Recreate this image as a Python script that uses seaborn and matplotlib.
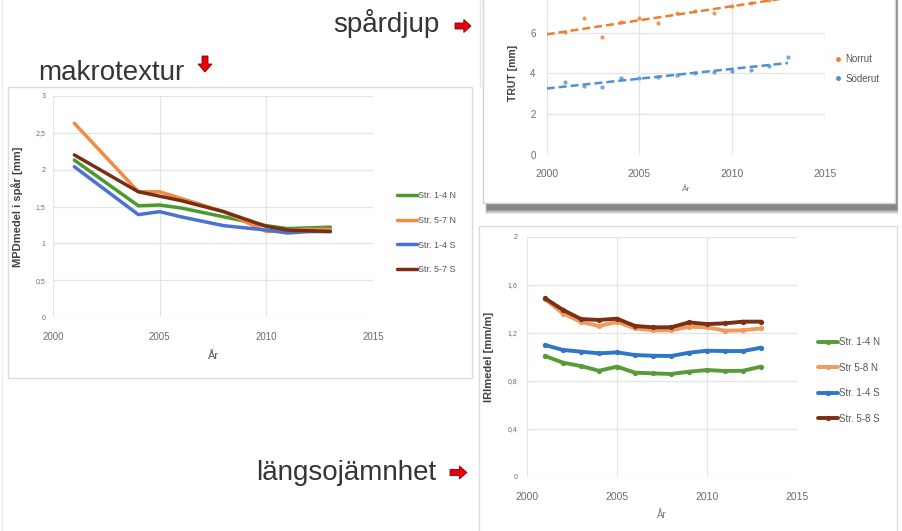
import matplotlib
matplotlib.use("Agg")
import matplotlib.pyplot as plt
import pandas as pd
import seaborn as sns
from matplotlib.lines import Line2D
from matplotlib.patches import Rectangle, Polygon
from matplotlib.ticker import FuncFormatter, FixedLocator

# ---- makrotextur (MPD) ----
mpd_years = [2001, 2004, 2005, 2006, 2008, 2010, 2011, 2012, 2013]
mpd_str14n = [2.13, 1.51, 1.52, 1.48, 1.36, 1.24, 1.20, 1.21, 1.22]
mpd_str57n = [2.63, 1.70, 1.70, 1.61, 1.43, 1.16, 1.18, 1.19, 1.19]
mpd_str14s = [2.04, 1.39, 1.43, 1.36, 1.24, 1.18, 1.14, 1.16, 1.16]
mpd_str57s = [2.20, 1.70, 1.64, 1.58, 1.43, 1.23, 1.18, 1.17, 1.16]
mpd_labels = ["Str. 1-4 N", "Str. 5-7 N", "Str. 1-4 S", "Str. 5-7 S"]
mpd_colors = ["#4a9a2e", "#f08a45", "#4a72d2", "#7a2d12"]

# ---- spårdjup (TRUT) ----
rut_years = list(range(2001, 2014))
rut_norrut = [6.04, 6.70, 5.80, 6.53, 6.70, 6.49, 6.94, 7.07, 6.94, 7.30, 7.47, 7.60, 7.80]
rut_soderut = [3.59, 3.38, 3.32, 3.76, 3.76, 3.81, 3.92, 4.03, 4.08, 4.13, 4.17, 4.36, 4.79]
rut_labels = ["Norrut", "Söderut"]
rut_colors = ["#ee7d31", "#4f8fd3"]

# ---- längsojämnhet (IRI) ----
iri_years = list(range(2001, 2014))
iri_str14n = [1.006, 0.95, 0.922, 0.883, 0.917, 0.867, 0.861, 0.856, 0.875, 0.889, 0.881, 0.883, 0.917]
iri_str58n = [1.48, 1.36, 1.29, 1.256, 1.29, 1.236, 1.22, 1.22, 1.25, 1.245, 1.217, 1.22, 1.236]
iri_str14s = [1.097, 1.056, 1.042, 1.028, 1.036, 1.014, 1.008, 1.006, 1.033, 1.05, 1.047, 1.047, 1.075]
iri_str58s = [1.487, 1.39, 1.314, 1.306, 1.317, 1.256, 1.245, 1.245, 1.286, 1.272, 1.278, 1.292, 1.292]
iri_labels = ["Str. 1-4 N", "Str 5-8 N", "Str. 1-4 S", "Str. 5-8 S"]
iri_colors = ["#5a9a38", "#f29a5e", "#2f76c8", "#7a3012"]

sns.set_theme(style="white")
plt.rcParams["font.family"] = ["Liberation Sans", "DejaVu Sans"]

W, H = 903, 531
fig = plt.figure(figsize=(W / 100, H / 100), dpi=100)
fig.patch.set_facecolor("white")


def px_box(x0, y0, x1, y1):
    return [x0 / W, 1 - y1 / H, (x1 - x0) / W, (y1 - y0) / H]


def comma(v, _pos=None):
    return f"{v:g}".replace(".", ",")


TICK_C = "#6b6b6b"
GRID_C = "#e4e4e4"

# ---- slide background: panel frames, headings, arrows ----
bg = fig.add_axes([0, 0, 1, 1], zorder=0)
bg.set_xlim(0, W)
bg.set_ylim(H, 0)
bg.axis("off")

bg.plot([2, 2], [0, H], color="#ececec", lw=1)
bg.plot([480, 480], [0, 87], color="#e6e6e6", lw=1)
bg.add_patch(Rectangle((8, 87), 464, 291, facecolor="white", edgecolor="#dcdcdc", lw=1))
# drop shadow of the spårdjup card
for i, a in enumerate([0.05, 0.08, 0.11, 0.15, 0.20, 0.26]):
    g = 6 - i
    bg.add_patch(Rectangle((487 - g * 0.3, -10), 410 + g * 0.6, 219 + g * 0.9,
                           facecolor="#3a3a3a", edgecolor="none", alpha=a))
bg.add_patch(Rectangle((483, -10), 412, 213, facecolor="white", edgecolor="#d4d4d4", lw=1))
bg.add_patch(Rectangle((479, 226), 418, 320, facecolor="white", edgecolor="#dcdcdc", lw=1))

HEAD_C = "#353535"
bg.text(333, 32, "spårdjup", fontsize=20, color=HEAD_C, ha="left", va="baseline")
bg.text(38, 80, "makrotextur", fontsize=20, color=HEAD_C, ha="left", va="baseline")
bg.text(256, 480, "längsojämnhet", fontsize=20, color=HEAD_C, ha="left", va="baseline")


def right_arrow(x0, x1, cy):
    xm = x0 + 0.55 * (x1 - x0)
    pts = [(x0, cy - 3), (xm, cy - 3), (xm, cy - 6.5), (x1, cy), (xm, cy + 6.5), (xm, cy + 3), (x0, cy + 3)]
    bg.add_patch(Polygon(pts, closed=True, facecolor="#e8000b", edgecolor="#8a0000", lw=0.6))


def down_arrow(cx, y0, y1):
    ym = y0 + 0.5 * (y1 - y0)
    pts = [(cx - 3, y0), (cx + 3, y0), (cx + 3, ym), (cx + 7, ym), (cx, y1), (cx - 7, ym), (cx - 3, ym)]
    bg.add_patch(Polygon(pts, closed=True, facecolor="#e8000b", edgecolor="#8a0000", lw=0.6))


right_arrow(455, 471, 26)
right_arrow(450, 467, 472.5)
down_arrow(205, 56, 72)


def style_axes(ax, ylim, yticks, xfs, yfs, xpad, ypad):
    ax.set_facecolor("none")
    ax.set_xlim(2000, 2015)
    ax.set_ylim(*ylim)
    ax.xaxis.set_major_locator(FixedLocator([2000, 2005, 2010, 2015]))
    ax.yaxis.set_major_locator(FixedLocator(yticks))
    ax.yaxis.set_major_formatter(FuncFormatter(comma))
    ax.grid(True, color=GRID_C, lw=0.9)
    for s in ax.spines.values():
        s.set_visible(False)
    ax.tick_params(axis="x", length=0, labelsize=xfs, colors=TICK_C, pad=xpad)
    ax.tick_params(axis="y", length=0, labelsize=yfs, colors=TICK_C, pad=ypad)


# ---- makrotextur chart ----
ax1 = fig.add_axes(px_box(53, 96, 373, 317), zorder=2)
mpd_df = pd.DataFrame({
    "År": mpd_years * 4,
    "MPD": mpd_str14n + mpd_str57n + mpd_str14s + mpd_str57s,
    "Sträcka": sum([[lab] * len(mpd_years) for lab in mpd_labels], []),
})
sns.lineplot(data=mpd_df, x="År", y="MPD", hue="Sträcka", hue_order=mpd_labels,
             palette=dict(zip(mpd_labels, mpd_colors)), lw=2.5, legend=False, ax=ax1)
style_axes(ax1, (0, 3), [0, 0.5, 1, 1.5, 2, 2.5, 3], 7, 5, 11, 5.5)
ax1.set_xlabel("År", fontsize=8, color="#555555", labelpad=6)
ax1.set_ylabel("MPDmedel i spår [mm]", fontsize=8, color="#404040", fontweight="bold", labelpad=9)
h1 = [Line2D([], [], color=c, lw=2.5) for c in mpd_colors]
ax1.legend(h1, mpd_labels, loc="upper left", bbox_to_anchor=(397 / W, 1 - 191 / H),
           bbox_transform=fig.transFigure, frameon=False, fontsize=6.5, handlelength=2.2,
           handletextpad=0.1, borderpad=0, borderaxespad=0, labelspacing=1.75,
           labelcolor="#555555")

# ---- spårdjup chart ----
ax2 = fig.add_axes(px_box(546.7, -8.3, 825, 155), zorder=2)
ax2.set_xlim(2000, 2013)
for vals, col in zip([rut_norrut, rut_soderut], rut_colors):
    sns.regplot(x=rut_years, y=vals, ax=ax2, ci=None, truncate=False, color=col,
                scatter_kws=dict(s=9, marker="D", linewidths=0),
                line_kws=dict(ls=(0, (3.2, 1.6)), lw=1.8))
style_axes(ax2, (0, 8), [0, 2, 4, 6], 7.5, 7, 10, 8)
ax2.set_xlabel("År", fontsize=6, color="#777777", labelpad=5)
ax2.set_ylabel("TRUT [mm]", fontsize=7.5, color="#404040", fontweight="bold", labelpad=9)
h2 = [Line2D([], [], color=c, marker="o", ms=2.5, lw=0) for c in rut_colors]
ax2.legend(h2, rut_labels, loc="upper left", bbox_to_anchor=(834 / W, 1 - 54 / H),
           bbox_transform=fig.transFigure, frameon=False, fontsize=7, handlelength=0.8,
           handletextpad=0.4, borderpad=0, borderaxespad=0, labelspacing=1.0,
           labelcolor="#555555")

# ---- längsojämnhet chart ----
ax3 = fig.add_axes(px_box(527, 236.7, 797, 476.7), zorder=2)
iri_df = pd.DataFrame({
    "År": iri_years * 4,
    "IRI": iri_str14n + iri_str58n + iri_str14s + iri_str58s,
    "Sträcka": sum([[lab] * len(iri_years) for lab in iri_labels], []),
})
sns.lineplot(data=iri_df, x="År", y="IRI", hue="Sträcka", hue_order=iri_labels,
             palette=dict(zip(iri_labels, iri_colors)), lw=2.8, marker="o", ms=3.8,
             markeredgewidth=0, legend=False, ax=ax3)
style_axes(ax3, (0, 2), [0, 0.4, 0.8, 1.2, 1.6, 2], 7.5, 5, 11, 7)
ax3.set_xlabel("År", fontsize=7, color="#777777", labelpad=6)
ax3.set_ylabel("IRImedel [mm/m]", fontsize=8, color="#404040", fontweight="bold", labelpad=10)
h3 = [Line2D([], [], color=c, lw=2.8, marker="o", ms=3.8, markeredgewidth=0) for c in iri_colors]
ax3.legend(h3, iri_labels, loc="upper left", bbox_to_anchor=(818 / W, 1 - 337 / H),
           bbox_transform=fig.transFigure, frameon=False, fontsize=7, handlelength=2.1,
           handletextpad=0.1, borderpad=0, borderaxespad=0, labelspacing=1.6,
           labelcolor="#555555")

fig.savefig("out.png", dpi=100)
